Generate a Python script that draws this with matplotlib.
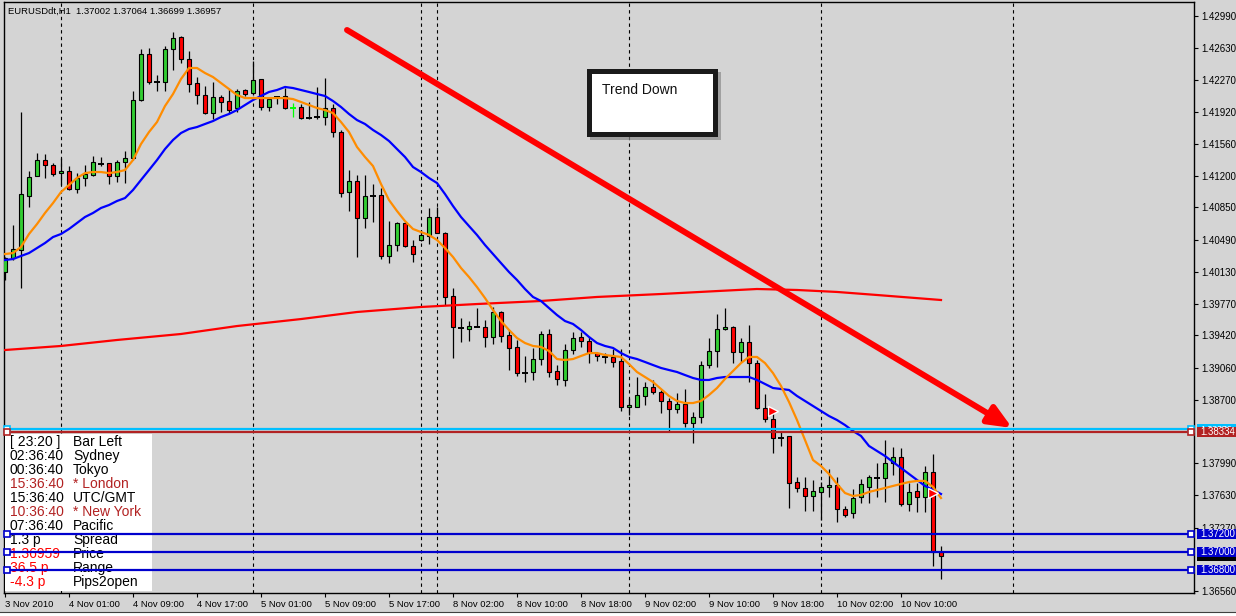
import matplotlib
matplotlib.use('Agg')
import matplotlib.pyplot as plt
import numpy as np
from matplotlib.patches import Rectangle
import matplotlib.transforms as mtransforms
import matplotlib.patheffects as pe

plt.rcParams['font.family'] = ['Liberation Sans', 'DejaVu Sans']

# ---------------- data ----------------
symbol_header = "EURUSDdt,H1  1.37002 1.37064 1.36699 1.36957"

opens = [1.40128,1.40285,1.40374,1.40978,1.41201,1.41380,1.41324,1.41234,1.41257,1.41056,
         1.41179,1.41212,1.41346,1.41346,1.41201,1.41358,1.41403,1.42051,1.42565,1.42253,
         1.42253,1.42621,1.42755,1.42509,1.42241,1.42107,1.41905,1.42085,1.42040,1.41962,
         1.42163,1.42129,1.42286,1.41973,1.42085,1.42096,1.41962,1.41973,1.41850,1.41861,
         1.41861,1.41962,1.41694,1.41023,1.41146,1.40732,1.40978,1.40989,1.40307,1.40430,
         1.40675,1.40419,1.40486,1.40531,1.40743,1.40564,1.39860,1.39502,1.39491,1.39513,
         1.39513,1.39402,1.39681,1.39424,1.39290,1.38998,1.39010,1.39155,1.39435,1.39021,
         1.38921,1.39256,1.39402,1.39357,1.39222,1.39178,1.39178,1.39133,1.38619,1.38619,
         1.38742,1.38843,1.38787,1.38686,1.38596,1.38652,1.38439,1.38507,1.39088,1.39245,
         1.39491,1.39513,1.39234,1.39346,1.39110,1.38608,1.38484,1.38273,1.38295,1.37780,
         1.37714,1.37624,1.37669,1.37725,1.37747,1.37478,1.37433,1.37613,1.37725,1.37825,
         1.37825,1.37992,1.38060,1.37534,1.37680,1.37613,1.37892,1.37002]
highs = [1.40296,1.40653,1.41917,1.41257,1.41458,1.41447,1.41346,1.41403,1.41313,1.41234,
         1.41324,1.41425,1.41414,1.41350,1.41380,1.41481,1.42152,1.42621,1.42632,1.42330,
         1.42655,1.42811,1.42766,1.42599,1.42308,1.42208,1.42253,1.42107,1.42174,1.42174,
         1.42170,1.42487,1.42290,1.42085,1.42096,1.42186,1.42017,1.42006,1.42029,1.42197,
         1.42297,1.42006,1.41716,1.41268,1.41212,1.41212,1.41112,1.41068,1.40698,1.40687,
         1.40687,1.40486,1.40598,1.40844,1.40855,1.40570,1.39950,1.39613,1.39580,1.39725,
         1.39591,1.39737,1.39692,1.39480,1.39368,1.39189,1.39279,1.39469,1.39490,1.39088,
         1.39323,1.39458,1.39458,1.39402,1.39234,1.39222,1.39267,1.39267,1.38719,1.38954,
         1.38899,1.38921,1.38809,1.38719,1.38775,1.38820,1.38563,1.39133,1.39390,1.39658,
         1.39725,1.39524,1.39390,1.39535,1.39144,1.38764,1.38551,1.38351,1.38300,1.37836,
         1.37836,1.37803,1.37780,1.37925,1.37836,1.37512,1.37702,1.37814,1.37858,1.37992,
         1.38250,1.38172,1.38160,1.37769,1.37769,1.37959,1.38093,1.37064]
lows = [1.40039,1.40262,1.39950,1.40855,1.41201,1.41179,1.41201,1.41101,1.41045,1.41011,
        1.41090,1.41201,1.41313,1.41112,1.41135,1.41123,1.41380,1.42040,1.42230,1.42152,
        1.42152,1.42386,1.42464,1.42141,1.42006,1.41900,1.41838,1.41917,1.41905,1.41917,
        1.42096,1.42107,1.41939,1.41928,1.42006,1.41955,1.41861,1.41838,1.41838,1.41838,
        1.41771,1.41638,1.40967,1.40810,1.40296,1.40620,1.40687,1.40273,1.40228,1.40363,
        1.40408,1.40240,1.40480,1.40441,1.40560,1.39759,1.39167,1.39346,1.39357,1.39510,
        1.39290,1.39323,1.39346,1.39032,1.38965,1.38899,1.38921,1.39088,1.38954,1.38865,
        1.38854,1.39211,1.39290,1.39110,1.39133,1.39110,1.39066,1.38574,1.38529,1.38615,
        1.38641,1.38764,1.38551,1.38340,1.38551,1.38395,1.38216,1.38439,1.39054,1.39066,
        1.39485,1.39110,1.39122,1.38899,1.38600,1.38451,1.38104,1.38183,1.37490,1.37669,
        1.37456,1.37456,1.37355,1.37613,1.37333,1.37389,1.37378,1.37545,1.37545,1.37613,
        1.37557,1.37858,1.37512,1.37456,1.37445,1.37445,1.36841,1.36699]
closes = [1.40285,1.40385,1.41000,1.41190,1.41380,1.41324,1.41223,1.41257,1.41056,1.41179,
          1.41223,1.41358,1.41340,1.41201,1.41358,1.41403,1.42051,1.42565,1.42253,1.42250,
          1.42621,1.42744,1.42509,1.42230,1.42107,1.41905,1.42085,1.42029,1.41939,1.42152,
          1.42118,1.42275,1.41973,1.42062,1.42082,1.41962,1.41960,1.41850,1.41848,1.41858,
          1.41962,1.41694,1.41011,1.41146,1.40732,1.40978,1.40975,1.40307,1.40430,1.40675,
          1.40419,1.40329,1.40542,1.40743,1.40564,1.39849,1.39513,1.39500,1.39524,1.39511,
          1.39402,1.39681,1.39413,1.39279,1.38998,1.38995,1.39155,1.39435,1.39010,1.38931,
          1.39256,1.39390,1.39357,1.39222,1.39189,1.39175,1.39122,1.38619,1.38641,1.38753,
          1.38843,1.38787,1.38686,1.38596,1.38652,1.38439,1.38507,1.39088,1.39245,1.39491,
          1.39513,1.39234,1.39346,1.39110,1.38608,1.38484,1.38273,1.38270,1.37769,1.37714,
          1.37624,1.37680,1.37725,1.37747,1.37478,1.37411,1.37601,1.37758,1.37836,1.37822,
          1.37992,1.38060,1.37534,1.37669,1.37613,1.37892,1.37002,1.36957]
lime_bars = [36]

ema_fast = [1.40329,1.40340,1.40408,1.40553,1.40664,1.40788,1.40899,1.41022,1.41101,1.41179,
            1.41234,1.41246,1.41246,1.41234,1.41246,1.41268,1.41380,1.41559,1.41693,1.41805,
            1.41984,1.42118,1.42286,1.42409,1.42409,1.42353,1.42308,1.42241,1.42174,1.42107,
            1.42073,1.42073,1.42073,1.42073,1.42073,1.42073,1.42062,1.42029,1.41995,1.41962,
            1.41939,1.41905,1.41805,1.41693,1.41526,1.41414,1.41313,1.41112,1.40933,1.40810,
            1.40698,1.40609,1.40575,1.40542,1.40486,1.40396,1.40296,1.40173,1.40072,1.39960,
            1.39837,1.39703,1.39580,1.39480,1.39390,1.39334,1.39301,1.39290,1.39245,1.39155,
            1.39144,1.39155,1.39189,1.39222,1.39222,1.39200,1.39189,1.39178,1.39099,1.39010,
            1.38954,1.38898,1.38820,1.38742,1.38686,1.38663,1.38663,1.38686,1.38753,1.38831,
            1.38932,1.39021,1.39110,1.39178,1.39178,1.39110,1.38998,1.38854,1.38675,1.38473,
            1.38250,1.38026,1.37959,1.37870,1.37758,1.37657,1.37624,1.37635,1.37669,1.37691,
            1.37713,1.37736,1.37758,1.37780,1.37792,1.37792,1.37725,1.37601]
ema_slow = [1.40262,1.40273,1.40307,1.40340,1.40396,1.40452,1.40519,1.40553,1.40609,1.40676,
            1.40743,1.40788,1.40844,1.40877,1.40922,1.40955,1.41045,1.41157,1.41268,1.41380,
            1.41503,1.41604,1.41682,1.41727,1.41749,1.41783,1.41816,1.41861,1.41895,1.41939,
            1.41995,1.42051,1.42096,1.42141,1.42163,1.42197,1.42185,1.42163,1.42141,1.42118,
            1.42096,1.42040,1.41973,1.41895,1.41827,1.41783,1.41716,1.41660,1.41593,1.41503,
            1.41414,1.41302,1.41246,1.41179,1.41123,1.41000,1.40866,1.40743,1.40642,1.40542,
            1.40430,1.40329,1.40228,1.40128,1.40039,1.39938,1.39849,1.39804,1.39725,1.39647,
            1.39580,1.39547,1.39480,1.39402,1.39334,1.39301,1.39279,1.39222,1.39178,1.39155,
            1.39122,1.39088,1.39055,1.39032,1.39010,1.38976,1.38943,1.38921,1.38921,1.38943,
            1.38954,1.38954,1.38954,1.38954,1.38921,1.38876,1.38831,1.38820,1.38809,1.38742,
            1.38686,1.38630,1.38574,1.38518,1.38473,1.38417,1.38350,1.38295,1.38183,1.38127,
            1.38071,1.38004,1.37937,1.37870,1.37803,1.37736,1.37691,1.37646]
ma_long_idx = [0, 7, 14, 22, 29, 37, 44, 52, 59, 67, 74, 82, 89, 94, 99, 104, 109, 117]
ma_long = [1.39256,1.39301,1.39368,1.39435,1.39524,1.39602,1.39681,1.39737,1.39770,1.39804,
           1.39849,1.39882,1.39915,1.39938,1.39927,1.39905,1.39871,1.39815]

signal_idx = [96, 116]
signal_price = [1.38574, 1.37657]

separator_idx = [7, 31, 52, 54, 78, 102, 126]

xtick_idx = [0, 8, 16, 24, 32, 40, 48, 56, 64, 72, 80, 88, 96, 104, 112]
xtick_labels = ["3 Nov 2010", "4 Nov 01:00", "4 Nov 09:00", "4 Nov 17:00", "5 Nov 01:00",
                "5 Nov 09:00", "5 Nov 17:00", "8 Nov 02:00", "8 Nov 10:00", "8 Nov 18:00",
                "9 Nov 02:00", "9 Nov 10:00", "9 Nov 18:00", "10 Nov 02:00", "10 Nov 10:00"]
ytick_vals = [1.42990, 1.42630, 1.42270, 1.41920, 1.41560, 1.41200, 1.40850, 1.40490, 1.40130,
              1.39770, 1.39420, 1.39060, 1.38700, 1.37990, 1.37630, 1.37270, 1.36560]

hlevels = [1.38370, 1.38334, 1.37200, 1.37000, 1.36800]
hcolors = ['#00BFFF', '#B22222', '#0000CD', '#0000CD', '#0000CD']
bid_price = 1.36957

arrow_start = (42.75, 1.42834)
arrow_end = (125.9, 1.38384)
trend_text = "Trend Down"

panel_values = ["[ 23:20 ]", "02:36:40", "00:36:40", "15:36:40", "15:36:40", "10:36:40",
                "07:36:40", "1.3 p", "1.36959", "36.5 p", "-4.3 p"]
panel_labels = ["Bar Left", "Sydney", "Tokyo", "* London", "UTC/GMT", "* New York",
                "Pacific", "Spread", "Price", "Range", "Pips2open"]
panel_value_colors = ['black', 'black', 'black', '#B22222', 'black', '#B22222',
                      'black', 'black', '#FF0000', '#FF0000', '#FF0000']
panel_label_colors = ['black', 'black', 'black', '#B22222', 'black', '#B22222',
                      'black', 'black', 'black', 'black', 'black']

# ---------------- figure ----------------
W, H = 1236, 616
BG = '#D4D4D4'
fig = plt.figure(figsize=(W / 100, H / 100), dpi=100, facecolor=BG)
tpix = mtransforms.Affine2D().scale(1 / W, -1 / H).translate(0, 1) + fig.transFigure

ax = fig.add_axes([4 / W, 1 - 593 / H, 1190 / W, 591 / H])
ax.set_facecolor(BG)
ax.set_xlim(-0.125, 148.625)
ax.set_ylim(1.36539, 1.43147)
for s in ax.spines.values():
    s.set_color('black')
    s.set_linewidth(1.0)

# day separators
for xi in separator_idx:
    ax.axvline(xi, color='black', lw=0.8, ls=(0, (3, 3)), zorder=1)

# candles
o = np.array(opens); h = np.array(highs); l = np.array(lows); c = np.array(closes)
idx = np.arange(len(o))
doji = np.abs(c - o) < 0.00008
up = (c > o) & ~doji
dn = (c < o) & ~doji
wick_cols = ['#00FF00' if i in lime_bars else 'black' for i in idx]
ax.vlines(idx, l, h, colors=wick_cols, lw=0.9, zorder=2)
ax.bar(idx[up], (c - o)[up], bottom=o[up], width=0.6, color='#32CD32',
       edgecolor='black', linewidth=0.8, zorder=3)
ax.bar(idx[dn], (c - o)[dn], bottom=o[dn], width=0.6, color='#FF0000',
       edgecolor='black', linewidth=0.8, zorder=3)
doji_cols = ['#00FF00' if i in lime_bars else 'black' for i in idx[doji]]
ax.hlines(c[doji], idx[doji] - 0.36, idx[doji] + 0.36, colors=doji_cols, lw=1.4, zorder=3)

# moving averages
ax.plot(ma_long_idx, ma_long, color='#FF0000', lw=1.6, zorder=4)
ax.plot(idx, ema_slow, color='#0000FF', lw=1.6, zorder=4)
ax.plot(idx, ema_fast, color='#FF8C00', lw=1.6, zorder=4)

# signal markers
ax.plot(signal_idx, signal_price, ls='none', marker='>', ms=6.5, mfc='#FF0000',
        mec='white', mew=1.0, zorder=7)

# info panel
ax.add_patch(Rectangle((5, 434), 147, 157, transform=tpix, facecolor='white',
                       edgecolor='none', zorder=5, clip_on=False))
for k in range(len(panel_values)):
    yc = 441.7 + 14.0 * k
    ax.text(10, yc, panel_values[k], transform=tpix, color=panel_value_colors[k],
            fontsize=10, va='center', ha='left', zorder=5.5)
    ax.text(73, yc, panel_labels[k], transform=tpix, color=panel_label_colors[k],
            fontsize=10, va='center', ha='left', zorder=5.5)

# horizontal lines with end squares
for lv, col in zip(hlevels, hcolors):
    ax.axhline(lv, color=col, lw=1.6, zorder=6)
    ax.plot([0.25, 148.25], [lv, lv], ls='none', marker='s', ms=4.2, mfc='white',
            mec=col, mew=1.2, zorder=6.5, clip_on=False)

# trend box
ax.add_patch(Rectangle((590, 72), 131, 68, transform=tpix, facecolor='#8A8A8A',
                       edgecolor='none', alpha=0.7, zorder=5, clip_on=False))
ax.add_patch(Rectangle((587, 69), 131, 68, transform=tpix, facecolor='#1A1A1A',
                       edgecolor='none', zorder=5.1, clip_on=False))
ax.add_patch(Rectangle((592, 74), 121, 58, transform=tpix, facecolor='white',
                       edgecolor='none', zorder=5.2, clip_on=False))
ax.text(602, 90, trend_text, transform=tpix, fontsize=10, color='#111111',
        va='center', ha='left', zorder=5.5)

# red trend arrow
ann = ax.annotate('', xy=arrow_end, xytext=arrow_start,
                  arrowprops=dict(arrowstyle='-|>,head_length=1.4,head_width=0.6',
                                  color='#FF0000', lw=4.3, shrinkA=0, shrinkB=0),
                  zorder=6.8)
ann.arrow_patch.set_path_effects([pe.SimplePatchShadow(offset=(2, -2), shadow_rgbFace='#7A7A7A',
                                                       alpha=0.6), pe.Normal()])

# axes ticks
ax.yaxis.tick_right()
ax.set_yticks(ytick_vals)
ax.set_yticklabels(["%.5f" % v for v in ytick_vals])
ax.tick_params(axis='y', direction='out', length=3, width=0.8, pad=2, labelsize=7,
               colors='black')
ax.set_xticks(xtick_idx)
ax.set_xticklabels(xtick_labels, ha='left')
ax.tick_params(axis='x', direction='out', length=3, width=0.8, pad=2, labelsize=6.8,
               colors='black')

# price tags on the right axis
btr = mtransforms.blended_transform_factory(fig.transFigure, ax.transData)
hh = 0.00056
x0 = 1197 / W
# bid marker band (mostly hidden behind the blue tags)
fig.add_artist(Rectangle((x0, bid_price - hh), 1 - x0, 2 * hh, transform=btr,
                         facecolor='#000000', edgecolor='none', zorder=2.0))
tag_levels = hlevels
tag_colors = hcolors
tag_texts = ["%.5f" % v for v in hlevels]
for z, (lv, col, tx) in enumerate(zip(tag_levels, tag_colors, tag_texts)):
    fig.add_artist(Rectangle((x0, lv - hh), 1 - x0, 2 * hh, transform=btr,
                             facecolor=col, edgecolor='none', zorder=2.1 + z * 0.1))
    fig.text(1200 / W, lv, tx, transform=btr, color='white',
             fontsize=6.3 if z == 0 else 7, va='center', ha='left',
             zorder=2.15 + z * 0.1)

# header
fig.text(8 / W, 1 - 11 / H, symbol_header, fontsize=6.8, va='center', ha='left',
         color='black', zorder=5)

# window bottom strip
fig.add_artist(Rectangle((0, 0), 1, 4 / H, transform=fig.transFigure,
                         facecolor='white', edgecolor='none', zorder=1))
fig.add_artist(plt.Line2D([0, 1], [4.5 / H, 4.5 / H], transform=fig.transFigure,
                          color='#404040', lw=0.8, zorder=1))

fig.savefig('out.png', dpi=100, facecolor=BG)
